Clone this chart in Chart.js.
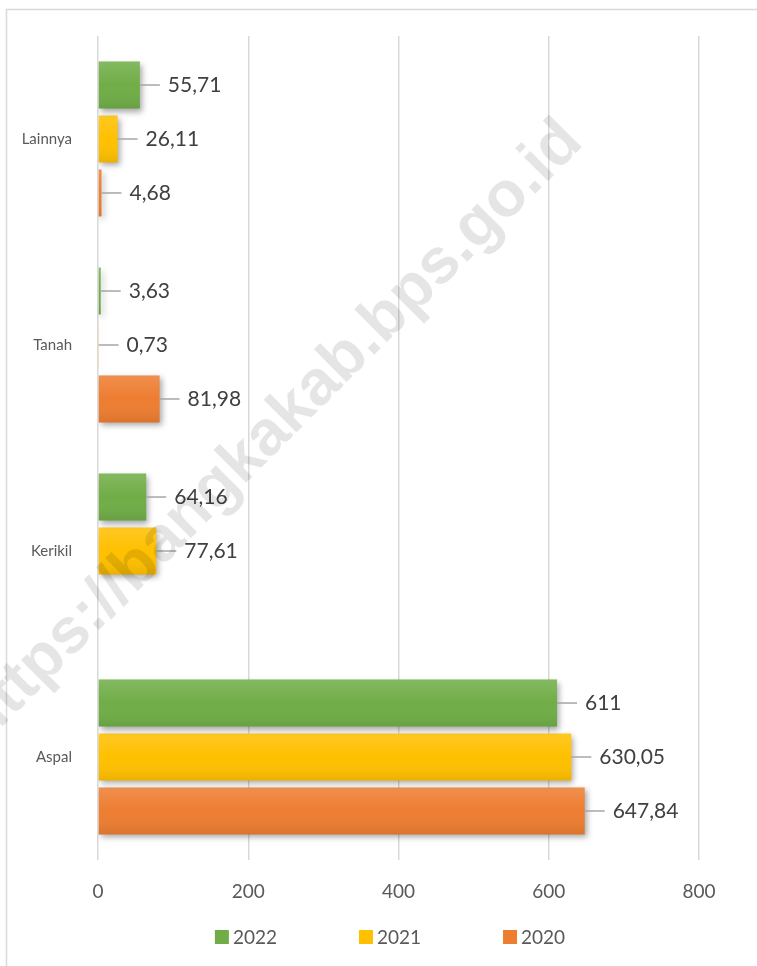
<!DOCTYPE html>
<html>
<head>
<meta charset="utf-8">
<script src="https://cdn.jsdelivr.net/npm/chart.js@4.4.0/dist/chart.umd.min.js"></script>
<style>
  html, body { margin: 0; padding: 0; background: #fff; }
  #wrap { width: 757px; height: 966px; }
</style>
</head>
<body>
<div id="wrap"><canvas id="jalanChart" width="757" height="966"></canvas></div>
<script>
// data (km jalan per jenis permukaan)
const categories = ['Lainnya', 'Tanah', 'Kerikil', 'Aspal'];
const years = ['2022', '2021', '2020'];
const values2022 = [55.71, 3.63, 64.16, 611];
const values2021 = [26.11, 0.73, 77.61, 630.05];
const values2020 = [4.68, 81.98, null, 647.84];
const xTicks = [0, 200, 400, 600, 800];
const colors = ['#70ad47', '#ffc000', '#ed7d31'];
const watermark = 'https://bangkakab.bps.go.id';

const font = 'Lato, "Open Sans", sans-serif';

// frame, bar shading, value labels, legend and watermark
const decor = {
    id: 'decor',
    beforeDraw(chart) {
        const ctx = chart.ctx;
        ctx.save();
        ctx.strokeStyle = '#d9d9d9';
        ctx.lineWidth = 1.5;
        ctx.strokeRect(6.5, 9.5, 900, 1100);
        ctx.restore();
    },
    beforeDatasetsDraw(chart) {
        const ctx = chart.ctx;
        ctx.save();
        ctx.shadowColor = 'rgba(0, 0, 0, 0.35)';
        ctx.shadowBlur = 6;
        ctx.shadowOffsetX = 2;
        ctx.shadowOffsetY = 3;
    },
    afterDatasetsDraw(chart) {
        const ctx = chart.ctx;
        ctx.restore();

        // light top / dark bottom like the office gradient
        chart.data.datasets.forEach((ds, i) => {
            chart.getDatasetMeta(i).data.forEach((bar, j) => {
                if (ds.data[j] === null) return;
                const p = bar.getProps(['x', 'y', 'base', 'height'], true);
                const top = p.y - p.height / 2;
                const g = ctx.createLinearGradient(0, top, 0, top + p.height);
                g.addColorStop(0, 'rgba(255,255,255,0.14)');
                g.addColorStop(0.5, 'rgba(255,255,255,0)');
                g.addColorStop(1, 'rgba(0,0,0,0.08)');
                ctx.fillStyle = g;
                ctx.fillRect(p.base, top, p.x - p.base, p.height);
            });
        });

        ctx.save();
        ctx.font = '21px ' + font;
        ctx.fillStyle = '#404040';
        ctx.strokeStyle = '#a6a6a6';
        ctx.lineWidth = 1.5;
        ctx.textBaseline = 'middle';
        chart.data.datasets.forEach((ds, i) => {
            chart.getDatasetMeta(i).data.forEach((bar, j) => {
                const v = ds.data[j];
                if (v === null) return;
                ctx.beginPath();
                ctx.moveTo(bar.x, bar.y);
                ctx.lineTo(bar.x + 20, bar.y);
                ctx.stroke();
                ctx.fillText(String(v).replace('.', ','), bar.x + 28, bar.y);
            });
        });
        ctx.restore();
    },
    afterDraw(chart) {
        const ctx = chart.ctx;
        ctx.save();
        // legend
        ctx.font = '19px ' + font;
        ctx.textBaseline = 'middle';
        const gap = 82;
        const items = chart.data.datasets.map(ds => 18 + ctx.measureText(ds.label).width);
        const total = items.reduce((a, b) => a + b, 0) + gap * (items.length - 1);
        let x = 390 - total / 2;
        const y = 937;
        chart.data.datasets.forEach((ds, i) => {
            ctx.fillStyle = ds.backgroundColor;
            ctx.fillRect(x, y - 7, 14, 14);
            ctx.fillStyle = '#595959';
            ctx.fillText(ds.label, x + 18, y + 1);
            x += items[i] + gap;
        });

        // watermark
        ctx.translate(272, 432);
        ctx.rotate(-Math.PI / 4);
        ctx.font = 'bold 64px "Liberation Sans", Arial, sans-serif';
        ctx.fillStyle = 'rgba(0, 0, 0, 0.1)';
        ctx.textAlign = 'center';
        ctx.textBaseline = 'middle';
        ctx.fillText(watermark, 0, 0);
        ctx.restore();
    }
};

const ctx = document.getElementById('jalanChart').getContext('2d');
const jalanChart = new Chart(ctx, {
    type: 'bar',
    data: {
        labels: categories,
        datasets: [
            { label: years[0], data: values2022, backgroundColor: colors[0] },
            { label: years[1], data: values2021, backgroundColor: colors[1] },
            { label: years[2], data: values2020, backgroundColor: colors[2] }
        ]
    },
    options: {
        indexAxis: 'y',
        responsive: false,
        animation: false,
        devicePixelRatio: 1,
        datasets: {
            bar: { barPercentage: 0.87, categoryPercentage: 0.786 }
        },
        layout: { padding: { top: 36, right: 58, left: 0, bottom: 0 } },
        scales: {
            x: {
                min: 0,
                max: 800,
                afterBuildTicks: s => { s.ticks = xTicks.map(v => ({ value: v })); },
                afterFit: s => { s.height = 106; },
                grid: { color: '#d9d9d9', lineWidth: 1.5, drawTicks: false },
                border: { display: false },
                ticks: { color: '#595959', font: { family: font, size: 19 }, padding: 20 }
            },
            y: {
                afterFit: s => { s.width = 98; },
                grid: { display: false },
                border: { display: false },
                ticks: { color: '#595959', font: { family: font, size: 15 }, padding: 18 }
            }
        },
        plugins: {
            legend: { display: false },
            tooltip: { enabled: false }
        }
    },
    plugins: [decor]
});
</script>
</body>
</html>
